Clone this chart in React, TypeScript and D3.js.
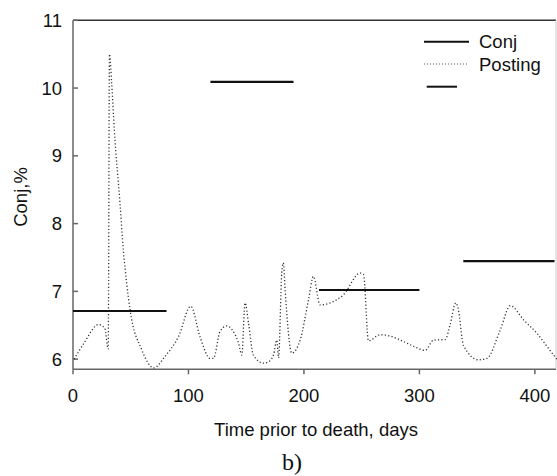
import React from "react";
import * as d3 from "d3";

const postingX = [1, 10, 22, 27.5, 30.5, 31.6, 33.5, 35.8, 40.7, 43.6, 46.5, 49.4, 59.5, 70, 79.7, 91.3, 102, 110, 118.7, 121.6, 127.4, 133.2, 137.5, 143.3, 146.2, 149, 152, 156.2, 165, 169.2, 173.6, 176.5, 178, 180.8, 182.2, 183.7, 189.5, 196.7, 203.9, 208.2, 214, 222.7, 234.2, 248.7, 251.6, 255.9, 266, 274.7, 286.2, 294.9, 305, 312.2, 322.4, 326.5, 331.5, 333.5, 338.2, 351.2, 358.5, 370, 378.7, 390.2, 401.8, 416.2, 420];
const postingY = [6.0, 6.25, 6.51, 6.46, 6.15, 10.5, 10.07, 9.38, 8.3, 7.61, 7.12, 6.73, 6.14, 5.87, 6.04, 6.33, 6.78, 6.33, 6.01, 6.01, 6.41, 6.49, 6.44, 6.24, 6.06, 6.83, 6.53, 6.06, 5.94, 5.96, 6.06, 6.28, 6.02, 7.27, 7.42, 7.02, 6.09, 6.28, 6.87, 7.22, 6.8, 6.83, 6.95, 7.27, 7.25, 6.27, 6.36, 6.34, 6.26, 6.19, 6.13, 6.28, 6.29, 6.5, 6.83, 6.75, 6.2, 5.99, 6.01, 6.43, 6.79, 6.58, 6.38, 6.06, 5.98];

const conjStart = [0, 119, 213, 338];
const conjEnd = [81, 191, 300, 417];
const conjValue = [6.71, 10.09, 7.02, 7.445];

const xTicks = [0, 100, 200, 300, 400];
const yTicks = [6, 7, 8, 9, 10, 11];

export default function App() {
  const W = 557, H = 476;
  const left = 73, right = 556, top = 20.3, bottom = 369.3;
  const x = d3.scaleLinear().domain([0, 418.3]).range([left, right]);
  const y = d3.scaleLinear().domain([5.85, 11]).range([bottom, top]);
  const pts = postingX.map((v, i) => [v, postingY[i]] as [number, number]);
  const line = d3.line<[number, number]>().x(d => x(d[0])).y(d => y(d[1])).curve(d3.curveMonotoneX);
  const font = "Liberation Sans, Arial, sans-serif";
  return (
    <svg width={W} height={H} style={{ position: "absolute", left: 0, top: 0, background: "#fff" }}>
      <rect x={0} y={0} width={W} height={H} fill="#fff" />
      {/* frame */}
      <line x1={left} x2={right} y1={top} y2={top} stroke="#333" strokeWidth={1.5} />
      <line x1={right} x2={right} y1={top} y2={bottom} stroke="#ccc" strokeWidth={1} />
      <line x1={left} x2={left} y1={top} y2={bottom} stroke="#666" strokeWidth={1.5} />
      <line x1={left} x2={right} y1={bottom} y2={bottom} stroke="#666" strokeWidth={1.5} />
      {yTicks.map(t => (
        <g key={"y" + t}>
          <line x1={left} x2={left + 5} y1={y(t)} y2={y(t)} stroke="#666" strokeWidth={1.5} />
          <text x={62} y={y(t)} dy="0.35em" textAnchor="end" fontFamily={font} fontSize={18.5} fill="#111">{t}</text>
        </g>
      ))}
      {xTicks.map(t => (
        <g key={"x" + t}>
          <line x1={x(t)} x2={x(t)} y1={bottom} y2={bottom + 5} stroke="#666" strokeWidth={1.5} />
          <text x={x(t)} y={402} textAnchor="middle" fontFamily={font} fontSize={18.5} fill="#111">{t}</text>
        </g>
      ))}
      <text x={316} y={436} textAnchor="middle" fontFamily={font} fontSize={18.5} fill="#111">Time prior to death, days</text>
      <text transform="translate(27,197) rotate(-90)" textAnchor="middle" fontFamily={font} fontSize={18.5} fill="#111">Conj,%</text>
      <text x={292} y={470} textAnchor="middle" fontFamily="Liberation Serif, Times New Roman, serif" fontSize={24} fill="#111">b)</text>
      {/* posting dotted */}
      <path d={line(pts) || ""} fill="none" stroke="#333" strokeWidth={1.3} strokeDasharray="1.2,2.2" />
      {/* conj segments */}
      {conjValue.map((v, i) => (
        <line key={"c" + i} x1={x(conjStart[i])} x2={x(conjEnd[i])} y1={y(v)} y2={y(v)} stroke="#111" strokeWidth={2.2} />
      ))}
      {/* legend */}
      <line x1={424} x2={469} y1={41.7} y2={41.7} stroke="#111" strokeWidth={2} />
      <text x={479} y={48} fontFamily={font} fontSize={18.5} fill="#111">Conj</text>
      <line x1={424} x2={469} y1={64} y2={64} stroke="#555" strokeWidth={1} strokeDasharray="1,2" />
      <text x={479} y={71} fontFamily={font} fontSize={18.5} fill="#111">Posting</text>
      <line x1={426.7} x2={457} y1={86.7} y2={86.7} stroke="#111" strokeWidth={2} />
    </svg>
  );
}
